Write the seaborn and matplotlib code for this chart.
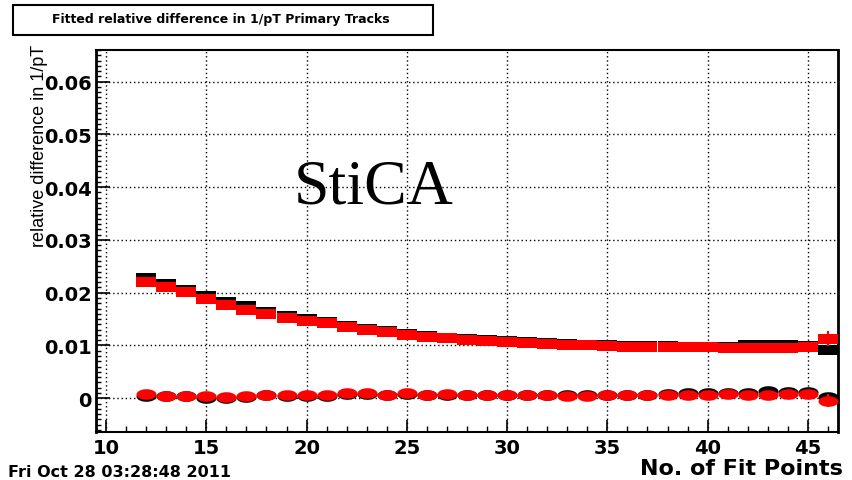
import numpy as np
import pandas as pd
import matplotlib
matplotlib.use("Agg")
import matplotlib.pyplot as plt
from matplotlib.path import Path
from matplotlib.ticker import MultipleLocator, FixedLocator
from matplotlib.patches import Rectangle
import seaborn as sns

# Number of fit points per bin
fit_points = list(range(12, 47))

# Width (sigma) of the relative 1/pT difference
sigma_black = [0.0227, 0.0217, 0.0205, 0.0194, 0.0182, 0.0174, 0.0164, 0.0156, 0.0150,
               0.0144, 0.0137, 0.0131, 0.0127, 0.0122, 0.0118, 0.0115, 0.0112, 0.0110,
               0.0108, 0.0106, 0.0104, 0.0102, 0.0101, 0.0100, 0.0099, 0.0099, 0.0099,
               0.0098, 0.0098, 0.0098, 0.0100, 0.0100, 0.0100, 0.0099, 0.0092]
sigma_red = [0.0221, 0.0210, 0.0201, 0.0189, 0.0177, 0.0168, 0.0160, 0.0152, 0.0147,
             0.0142, 0.0135, 0.0129, 0.0125, 0.0120, 0.0116, 0.0114, 0.0111, 0.0109,
             0.0106, 0.0105, 0.0102, 0.0100, 0.0100, 0.0099, 0.0098, 0.0098, 0.0097,
             0.0097, 0.0097, 0.0096, 0.0095, 0.0095, 0.0095, 0.0097, 0.0113]

# Mean of the relative 1/pT difference
mean_black = [0.0004, 0.0004, 0.0004, 0.0001, 0.0000, 0.00025, 0.0006, 0.0005, 0.0004,
              0.0005, 0.00076, 0.00076, 0.0007, 0.0008, 0.0007, 0.0007, 0.0007, 0.0006,
              0.0007, 0.0006, 0.0006, 0.0006, 0.0006, 0.0007, 0.0007, 0.0007, 0.0008,
              0.0010, 0.00106, 0.0010, 0.0010, 0.0014, 0.0011, 0.0012, 0.0002]
mean_red = [0.00076, 0.00044, 0.00044, 0.00044, 0.0003, 0.0005, 0.0006, 0.0007, 0.0007,
            0.0007, 0.00095, 0.00095, 0.0007, 0.00095, 0.0007, 0.00075, 0.0007, 0.0006,
            0.0006, 0.0006, 0.0006, 0.0004, 0.0004, 0.0006, 0.0006, 0.0006, 0.0006,
            0.0006, 0.0006, 0.0008, 0.0006, 0.0006, 0.0008, 0.0008, -0.00045]

# Statistical errors of the red points (only the last bin sticks out of the markers)
sigma_red_err = [0.0001] * 34 + [0.0014]
mean_red_err = [0.0001] * 34 + [0.0012]

x_ticks = [10, 15, 20, 25, 30, 35, 40, 45]
y_ticks = [0, 0.01, 0.02, 0.03, 0.04, 0.05, 0.06]
y_tick_labels = ["0", "0.01", "0.02", "0.03", "0.04", "0.05", "0.06"]

df = pd.DataFrame({
    "npts": fit_points,
    "sigma_black": sigma_black, "sigma_red": sigma_red,
    "mean_black": mean_black, "mean_red": mean_red,
})

sns.set_theme(style="white")
plt.rcParams["font.family"] = ["DejaVu Sans"]
plt.rcParams["text.color"] = "black"
plt.rcParams["xtick.color"] = "black"
plt.rcParams["ytick.color"] = "black"

fig = plt.figure(figsize=(8.53, 4.81), dpi=100)
ax = fig.add_axes([96 / 853, 1 - 433 / 481, (838 - 96) / 853, (433 - 51) / 481])

# Wide ROOT-like markers: flat box and flat ellipse
box_marker = Path([(-1, -0.5), (1, -0.5), (1, 0.5), (-1, 0.5), (-1, -0.5)],
                  [Path.MOVETO, Path.LINETO, Path.LINETO, Path.LINETO, Path.CLOSEPOLY])
t = np.linspace(0, 2 * np.pi, 60)
ell_marker = Path(np.column_stack([np.cos(t), 0.53 * np.sin(t)]), closed=True)

msize = 207
for col, marker in [("sigma_black", box_marker), ("mean_black", ell_marker)]:
    sns.scatterplot(data=df, x="npts", y=col, marker=marker, s=msize, color="black",
                    linewidth=0, ax=ax, zorder=3)
ax.errorbar(fit_points, sigma_red, yerr=sigma_red_err, fmt="none", ecolor="red",
            elinewidth=1.5, zorder=3.5)
ax.errorbar(fit_points, mean_red, yerr=mean_red_err, fmt="none", ecolor="red",
            elinewidth=1.5, zorder=3.5)
for col, marker in [("sigma_red", box_marker), ("mean_red", ell_marker)]:
    sns.scatterplot(data=df, x="npts", y=col, marker=marker, s=msize, color="red",
                    linewidth=0, ax=ax, zorder=4)

ax.set_xlim(9.5, 46.5)
ax.set_ylim(-0.0064, 0.066)
ax.set_xlabel("")
ax.set_ylabel("")

ax.xaxis.set_major_locator(FixedLocator(x_ticks))
ax.xaxis.set_minor_locator(MultipleLocator(1))
ax.yaxis.set_major_locator(FixedLocator(y_ticks))
ax.set_yticklabels(y_tick_labels)
ax.yaxis.set_minor_locator(MultipleLocator(0.001))

ax.tick_params(axis="x", which="major", direction="in", length=8.6, width=1.2,
               bottom=True, top=False, labelsize=14, pad=4, colors="black")
ax.tick_params(axis="x", which="minor", direction="in", length=4.3, width=1.0,
               bottom=True, top=False)
ax.tick_params(axis="y", which="major", direction="in", length=10, width=1.2,
               left=True, right=False, labelsize=14, pad=3, colors="black")
ax.tick_params(axis="y", which="minor", direction="in", length=3.6, width=1.0,
               left=True, right=False)
for lab in ax.get_xticklabels() + ax.get_yticklabels():
    lab.set_fontweight("bold")

ax.grid(True, which="major", color="black", linestyle=(0, (1, 2)), linewidth=1.0)
ax.set_axisbelow(True)
for side, sp in ax.spines.items():
    sp.set_visible(True)
    sp.set_color("black")
    sp.set_linewidth(2.0 if side in ("left", "right") else 1.5)

# Title box
fig.patches.append(Rectangle((13 / 853, 1 - 36 / 481), (433 - 13) / 853, 30 / 481,
                             transform=fig.transFigure, facecolor="white",
                             edgecolor="black", linewidth=1.5))
fig.text(221 / 853, 1 - 20 / 481, "Fitted relative difference in 1/pT Primary Tracks",
         ha="center", va="center", fontsize=9, fontweight="bold")

# Axis labels
fig.text(40 / 853, 1 - 45 / 481, "relative difference in 1/pT", rotation=90,
         ha="center", va="top", fontsize=13,
         family=["Liberation Sans", "DejaVu Sans"])
fig.text(843 / 853, 1 - 469 / 481, "No. of Fit Points", ha="right", va="center",
         fontsize=16, fontweight="bold")

# Date stamp
fig.text(8 / 853, 1 - 473 / 481, "Fri Oct 28 03:28:48 2011", ha="left", va="center",
         fontsize=11.5, fontweight="bold")

# Tracker label
fig.text(374 / 853, 1 - 188 / 481, "StiCA", ha="center", va="center", fontsize=46,
         family=["Liberation Serif", "DejaVu Serif"])

fig.savefig("out.png", dpi=100)
